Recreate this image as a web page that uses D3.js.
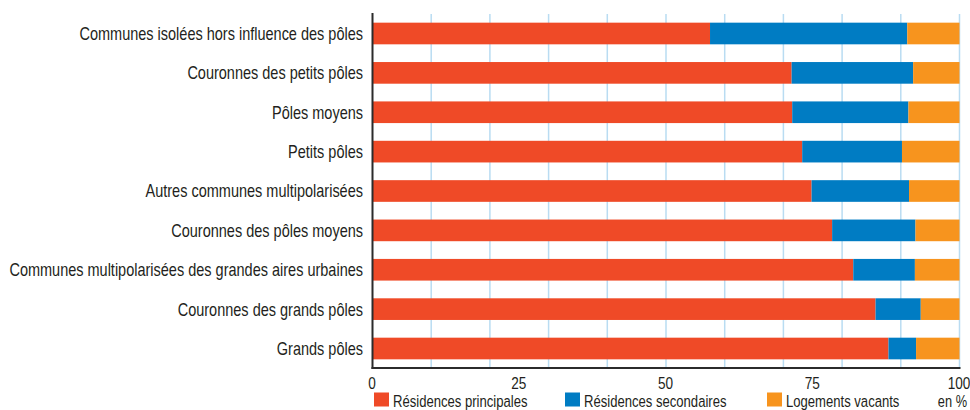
<!DOCTYPE html>
<html>
<head>
<meta charset="utf-8">
<script src="https://cdn.jsdelivr.net/npm/d3@7"></script>
<style>
  body { margin: 0; background: #fff; }
  svg text { font-family: "Liberation Sans", Arial, sans-serif; fill: #231f20; }
</style>
</head>
<body>
<svg id="chart"></svg>
<script>
const categories = [
    "Communes isolées hors influence des pôles",
    "Couronnes des petits pôles",
    "Pôles moyens",
    "Petits pôles",
    "Autres communes multipolarisées",
    "Couronnes des pôles moyens",
    "Communes multipolarisées des grandes aires urbaines",
    "Couronnes des grands pôles",
    "Grands pôles"
]
const principales = [57.5, 71.4, 71.5, 73.2, 74.8, 78.3, 81.9, 85.7, 87.9]
const secondaires = [33.6, 20.7, 19.8, 17.0, 16.6, 14.2, 10.5, 7.7, 4.7]
const vacants = [8.9, 7.9, 8.7, 9.8, 8.6, 7.5, 7.6, 6.6, 7.4]
const seriesNames = ["Résidences principales", "Résidences secondaires", "Logements vacants"]
const ticks = [0, 25, 50, 75, 100]

const colors = ["#ef4a27", "#007cc3", "#f7941e"]

let width = 970;
let height = 410;
let margin = { left: 372.5, right: 10.5, top: 14, bottom: 42 }

let svg = d3.select("#chart")
    .attr("width", width)
    .attr("height", height)

// the original uses a condensed face; squeeze Liberation Sans horizontally
function narrowText(sel, x, y, squeeze) {
    sel.attr("transform", `translate(${x},${y}) scale(${squeeze},1)`)
}

let rows = categories.map((c, i) => ({
    name: c,
    values: [principales[i], secondaires[i], vacants[i]]
}))

let xScale = d3.scaleLinear()
    .domain([0, 100])
    .range([margin.left, width - margin.right])

let yScale = d3.scaleBand()
    .domain(categories)
    .range([margin.top, height - margin.bottom])
    .paddingInner(0.45)
    .paddingOuter(0.22)

// grid every 10%
svg.append("g")
    .selectAll("line")
    .data(d3.range(10, 101, 10))
    .enter().append("line")
    .attr("x1", d => xScale(d))
    .attr("x2", d => xScale(d))
    .attr("y1", margin.top)
    .attr("y2", height - margin.bottom)
    .attr("stroke", "#b9dcf2")
    .attr("stroke-width", 1.5)

// stacked bars
let stack = svg.append("g")
rows.forEach(r => {
    let start = 0
    r.values.forEach((v, k) => {
        stack.append("rect")
            .attr("x", xScale(start))
            .attr("y", yScale(r.name))
            .attr("width", xScale(start + v) - xScale(start))
            .attr("height", yScale.bandwidth())
            .attr("fill", colors[k])
        start += v
    })
})

// category labels
svg.append("g")
    .selectAll("text")
    .data(categories)
    .enter().append("text")
    .each(function (d) {
        narrowText(d3.select(this), margin.left - 9.5, yScale(d) + yScale.bandwidth() / 2, 0.806)
    })
    .attr("dy", "0.36em")
    .attr("text-anchor", "end")
    .style("font-size", "18px")
    .text(d => d)

// axes lines
svg.append("line")
    .attr("x1", margin.left).attr("x2", margin.left)
    .attr("y1", margin.top - 1).attr("y2", height - margin.bottom + 1)
    .attr("stroke", "#2b2b2b").attr("stroke-width", 2)
svg.append("line")
    .attr("x1", margin.left - 1).attr("x2", xScale(100) + 1)
    .attr("y1", height - margin.bottom).attr("y2", height - margin.bottom)
    .attr("stroke", "#2b2b2b").attr("stroke-width", 2)

let axisX = d3.axisBottom(xScale)
    .tickValues(ticks)
    .tickSize(0)
    .tickPadding(0)

let ax = svg.append("g")
    .attr("transform", `translate(0,${height - margin.bottom})`)
    .call(axisX)
ax.select(".domain").remove()
ax.selectAll("text")
    .style("font-size", "17px")
    .style("font-family", null)
    .attr("fill", "#231f20")
    .attr("y", 0)
    .attr("dy", 0)
    .attr("transform", "translate(-1,20.5) scale(0.8,1)")

// legend
let legendX = [374, 565, 767]
let legend = svg.append("g")
seriesNames.forEach((n, k) => {
    legend.append("rect")
        .attr("x", legendX[k])
        .attr("y", 392.5)
        .attr("width", 15)
        .attr("height", 14)
        .attr("fill", colors[k])
    legend.append("text")
        .call(narrowText, legendX[k] + 19, 406.5, 0.77)
        .style("font-size", "17px")
        .text(n)
})
legend.append("text")
    .call(narrowText, 967, 406.5, 0.8)
    .attr("text-anchor", "end")
    .style("font-size", "16px")
    .text("en %")
</script>
</body>
</html>
